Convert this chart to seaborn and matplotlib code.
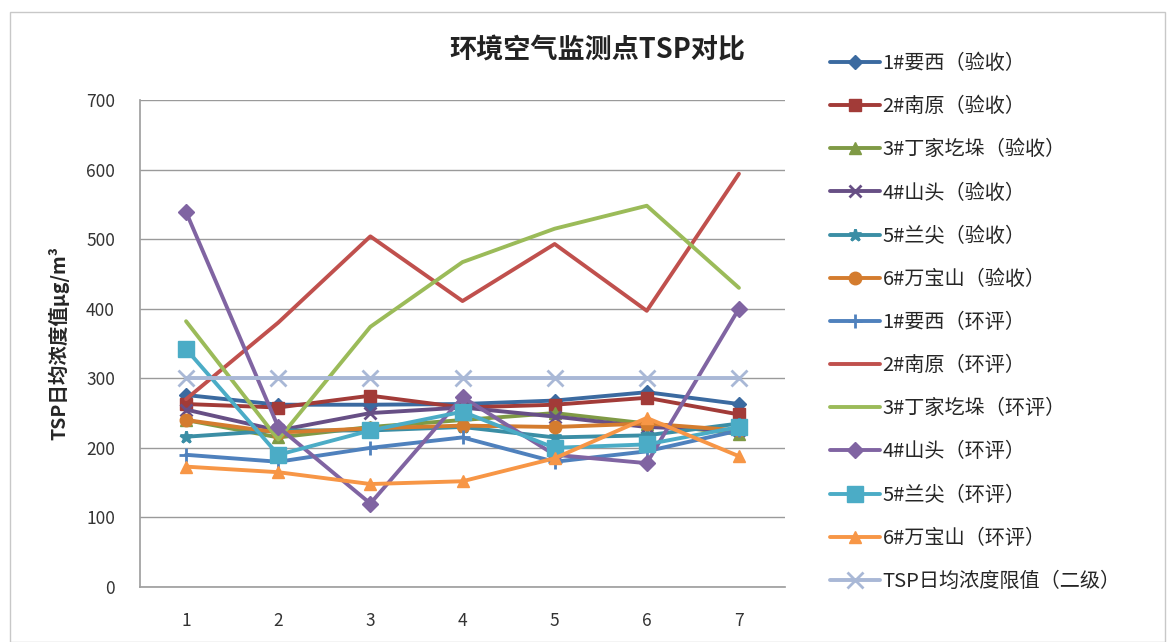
import matplotlib
matplotlib.use("Agg")
import matplotlib.pyplot as plt
from matplotlib.patches import Rectangle
import seaborn as sns
import pandas as pd

# sampling rounds on the x axis
rounds = [1, 2, 3, 4, 5, 6, 7]

# acceptance monitoring (验收)
yaoxi_ys = [276, 262, 262, 263, 268, 280, 263]
nanyuan_ys = [263, 258, 275, 258, 262, 272, 248]
dingjia_ys = [240, 215, 230, 240, 250, 235, 220]
shantou_ys = [255, 225, 250, 258, 245, 230, 225]
lanjian_ys = [216, 225, 225, 230, 215, 218, 235]
wanbao_ys = [240, 222, 228, 232, 230, 235, 225]

# environmental assessment (环评)
yaoxi_hp = [190, 180, 200, 215, 180, 195, 225]
nanyuan_hp = [270, 380, 504, 411, 493, 397, 594]
dingjia_hp = [382, 212, 374, 467, 515, 548, 430]
shantou_hp = [539, 230, 120, 273, 190, 178, 400]
lanjian_hp = [342, 190, 225, 252, 200, 205, 230]
wanbao_hp = [173, 165, 148, 152, 185, 243, 188]

# TSP daily limit (grade II)
tsp_limit = [300, 300, 300, 300, 300, 300, 300]

labels = [
    "1#要西（验收）", "2#南原（验收）", "3#丁家圪垛（验收）", "4#山头（验收）",
    "5#兰尖（验收）", "6#万宝山（验收）", "1#要西（环评）", "2#南原（环评）",
    "3#丁家圪垛（环评）", "4#山头（环评）", "5#兰尖（环评）", "6#万宝山（环评）",
    "TSP日均浓度限值（二级）",
]
values = [yaoxi_ys, nanyuan_ys, dingjia_ys, shantou_ys, lanjian_ys, wanbao_ys,
          yaoxi_hp, nanyuan_hp, dingjia_hp, shantou_hp, lanjian_hp, wanbao_hp,
          tsp_limit]

colors = ["#3B6AA0", "#A23B38", "#7F9A45", "#674F85", "#3B8EA5", "#D47C2E",
          "#4F81BD", "#C0504D", "#9BBB59", "#8064A2", "#4BACC6", "#F79646",
          "#A9B8D6"]
markers = ["D", "s", "^", "x", "*", "o", "+", None, None, "D", "s", "^", "x"]
msizes = [7, 9, 8, 9, 9, 9, 10, 0, 0, 8, 11, 9, 11]

sns.set_theme(style="white")
plt.rcParams['font.family'] = ['Noto Sans CJK SC', 'DejaVu Sans']

fig = plt.figure(figsize=(11.73, 6.42), dpi=100)
ax = fig.add_axes([140 / 1173, 55 / 642, 645 / 1173, 487 / 642])

for lab, vals, c, m, ms in zip(labels, values, colors, markers, msizes):
    df = pd.DataFrame({"x": rounds, "y": vals})
    mew = 2 if m in ("x", "+", "*") else 1
    sns.lineplot(data=df, x="x", y="y", ax=ax, color=c, linewidth=2.8,
                 marker=m if m else "", markersize=ms, markeredgecolor=c,
                 markeredgewidth=mew, label=lab, legend=False)

ax.set_xlim(0.5, 7.5)
ax.set_ylim(0, 700)
ax.set_xticks(rounds)
ax.set_yticks(range(0, 701, 100))
ax.tick_params(axis="x", labelsize=12.5, length=0, pad=18, colors="#333333")
ax.tick_params(axis="y", labelsize=12.5, length=0, pad=18, colors="#333333")
ax.yaxis.grid(True, color="#9a9a9a", linewidth=1)
ax.xaxis.grid(False)
for side in ["top", "right"]:
    ax.spines[side].set_visible(False)
ax.spines["left"].set_color("#a0a0a0")
ax.spines["bottom"].set_color("#a0a0a0")
ax.set_xlabel("")
ax.set_ylabel("TSP日均浓度值μg/m³", fontsize=14, fontweight="bold", labelpad=12)

fig.text(597 / 1173, 1 - 50 / 642, "环境空气监测点TSP对比", fontsize=19.5,
         fontweight="bold", ha="center", va="center", color="#222222")

handles, labs = ax.get_legend_handles_labels()
fig.legend(handles, labs, loc="upper left", bbox_to_anchor=(822 / 1173, 1 - 45 / 642),
           frameon=False, fontsize=14.5, labelspacing=1.1, handlelength=2.5,
           handletextpad=0.1, borderaxespad=0)

fig.patches.append(Rectangle((10 / 1173, 0), 1155 / 1173, 630 / 642, transform=fig.transFigure,
                             fill=False, edgecolor="#c8c8c8", linewidth=1))

fig.savefig("out.png", dpi=100)
